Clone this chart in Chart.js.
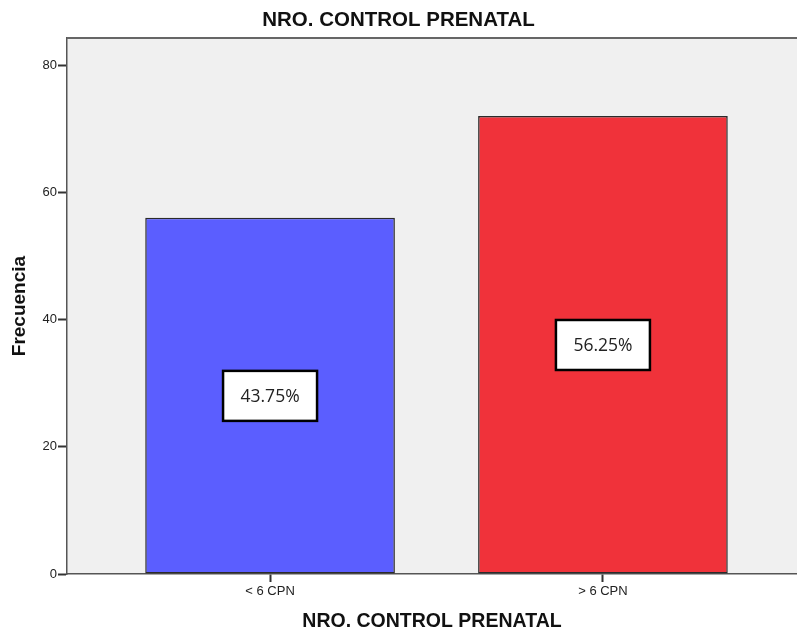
<!DOCTYPE html>
<html>
<head>
<meta charset="utf-8">
<script src="https://cdn.jsdelivr.net/npm/chart.js@4/dist/chart.umd.min.js"></script>
<style>
  html, body { margin: 0; padding: 0; background: #fff; overflow: hidden; }
  canvas { display: block; }
</style>
</head>
<body>
<canvas id="barChart" width="797" height="632"></canvas>
<script>
var categories = ['< 6 CPN', '> 6 CPN'];
var frequencies = [56, 72];
var percentLabels = ['43.75%', '56.25%'];
var yTicks = [0, 20, 40, 60, 80];
var barColors = ['rgb(91, 94, 255)', 'rgb(240, 50, 58)'];

var axisFont = "'Liberation Sans', Arial, sans-serif";

var plotFrame = {
    id: 'plotFrame',
    beforeDraw: function (chart) {
        var a = chart.chartArea, c = chart.ctx;
        c.save();
        c.fillStyle = '#f0f0f0';
        c.fillRect(a.left, a.top, a.right - a.left, a.bottom - a.top);
        c.restore();
    },
    afterDraw: function (chart) {
        var a = chart.chartArea, c = chart.ctx;
        c.save();
        c.strokeStyle = '#666';
        c.lineWidth = 2;
        c.beginPath();
        c.moveTo(a.left, a.top);
        c.lineTo(a.right, a.top);
        c.stroke();
        c.restore();
    }
};

var percentBoxes = {
    id: 'percentBoxes',
    afterDatasetsDraw: function (chart) {
        var c = chart.ctx;
        var yScale = chart.scales.y;
        var bars = chart.getDatasetMeta(0).data;
        c.save();
        c.font = "17.5px 'Open Sans', sans-serif";
        c.textAlign = 'center';
        c.textBaseline = 'middle';
        bars.forEach(function (bar, i) {
            var cy = yScale.getPixelForValue(frequencies[i] / 2);
            var w = 94, h = 50;
            c.fillStyle = '#fff';
            c.fillRect(bar.x - w / 2, cy - h / 2, w, h);
            c.strokeStyle = '#000';
            c.lineWidth = 2.5;
            c.strokeRect(bar.x - w / 2, cy - h / 2, w, h);
            c.fillStyle = '#222';
            c.fillText(percentLabels[i], bar.x, cy + 1);
        });
        c.restore();
    }
};

var ctx = document.getElementById('barChart').getContext('2d');
var barChart = new Chart(ctx, {
    type: 'bar',
    data: {
        datasets: [{
            label: 'Frecuencia',
            data: categories.map(function (c, i) { return { x: i + 1, y: frequencies[i] }; }),
            backgroundColor: barColors,
            borderColor: '#2b2b2b',
            borderWidth: 1.5,
            borderSkipped: false,
            barPercentage: 0.75,
            categoryPercentage: 1
        }]
    },
    options: {
        responsive: false,
        animation: false,
        layout: { padding: 0 },
        plugins: {
            legend: { display: false },
            tooltip: { enabled: false },
            title: {
                display: true,
                text: 'NRO. CONTROL PRENATAL',
                color: '#111',
                font: { family: axisFont, size: 20.5, weight: 'bold', lineHeight: 1.2 },
                padding: { top: 8, bottom: 5.5 }
            }
        },
        scales: {
            x: {
                type: 'linear',
                offset: false,
                min: 0.39,
                max: 2.583,
                afterBuildTicks: function (scale) {
                    scale.ticks = categories.map(function (c, i) { return { value: i + 1 }; });
                },
                afterFit: function (scale) { scale.height = 58; },
                ticks: {
                    color: '#222',
                    font: { family: axisFont, size: 13 },
                    padding: 2,
                    maxRotation: 0,
                    callback: function (v) { return categories[v - 1]; }
                },
                grid: { offset: false, drawOnChartArea: false, drawTicks: true, tickLength: 8, tickWidth: 2, color: '#333' },
                border: { display: true, color: '#555', width: 1.5 },
                title: {
                    display: true,
                    text: 'NRO. CONTROL PRENATAL',
                    color: '#111',
                    font: { family: axisFont, size: 19.5, weight: 'bold', lineHeight: 1 },
                    padding: { top: 0, bottom: 1 }
                }
            },
            y: {
                min: 0,
                max: 84.24,
                afterBuildTicks: function (scale) {
                    scale.ticks = yTicks.map(function (v) { return { value: v }; });
                },
                afterFit: function (scale) { scale.width = 67; },
                ticks: {
                    color: '#222',
                    font: { family: axisFont, size: 13 },
                    padding: 1
                },
                grid: { drawOnChartArea: false, drawTicks: true, tickLength: 9, tickWidth: 2, color: '#333' },
                border: { display: true, color: '#555', width: 1.5 },
                title: {
                    display: true,
                    text: 'Frecuencia',
                    color: '#111',
                    font: { family: axisFont, size: 19, weight: 'bold', lineHeight: 1.2 },
                    padding: { top: 8.5, bottom: 0 }
                }
            }
        }
    },
    plugins: [plotFrame, percentBoxes]
});
</script>
</body>
</html>
